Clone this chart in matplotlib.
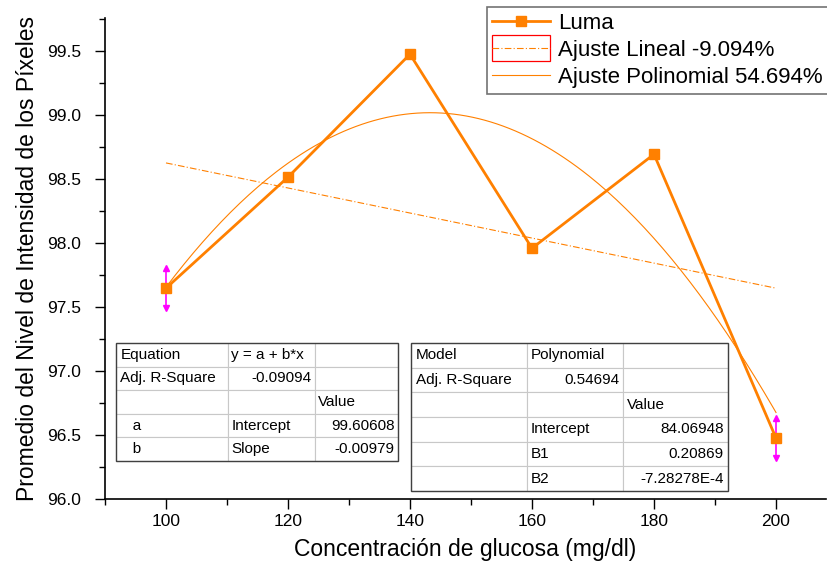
import matplotlib
matplotlib.use("Agg")
import matplotlib.pyplot as plt
import numpy as np
from matplotlib.lines import Line2D
from matplotlib.patches import Rectangle
from matplotlib.ticker import MultipleLocator

plt.rcParams['font.family'] = ['Liberation Sans', 'DejaVu Sans']

# ---- data ----
glucose = [100, 120, 140, 160, 180, 200]
luma = [97.648, 98.516, 99.477, 97.960, 98.695, 96.477]
luma_err = [0.155, 0.0, 0.0, 0.0, 0.0, 0.155]
lin_coef = [99.60608, -0.00979]             # a, b
poly_coef = [84.06948, 0.20869, -7.28278e-4]  # Intercept, B1, B2
fit_range = [100, 200]
xticks = [100, 120, 140, 160, 180, 200]
yticks = [96.0, 96.5, 97.0, 97.5, 98.0, 98.5, 99.0, 99.5]

lin_table = [["Equation", "y = a + b*x", ""],
             ["Adj. R-Square", "-0.09094", ""],
             ["", "", "Value"],
             ["   a", "Intercept", "99.60608"],
             ["   b", "Slope", "-0.00979"]]
poly_table = [["Model", "Polynomial", ""],
              ["Adj. R-Square", "0.54694", ""],
              ["", "", "Value"],
              ["", "Intercept", "84.06948"],
              ["", "B1", "0.20869"],
              ["", "B2", "-7.28278E-4"]]

ORANGE = '#FF8000'
MAGENTA = '#FF00FF'

fig = plt.figure(figsize=(8.28, 5.65), dpi=100)
ax = fig.add_axes([105/828, 1-499/565, 721/828, 481/565])

# fits
xf = np.linspace(fit_range[0], fit_range[1], 200)
ylin = lin_coef[0] + lin_coef[1]*xf
ypoly = poly_coef[0] + poly_coef[1]*xf + poly_coef[2]*xf**2
ax.plot(xf, ylin, color=ORANGE, lw=0.8, ls=(0, (6, 2, 1, 2)), zorder=2)
ax.plot(xf, ypoly, color=ORANGE, lw=0.8, zorder=2)

# data
ax.plot(glucose, luma, color=ORANGE, lw=2.0, marker='s', ms=7.5,
        mec=ORANGE, mfc=ORANGE, zorder=3)
# error bars with arrow heads
for xi, yi, ei in zip(glucose, luma, luma_err):
    if ei > 0:
        ax.plot([xi, xi], [yi - ei, yi + ei], color=MAGENTA, lw=1.2, zorder=2.5)
        ax.plot([xi], [yi + ei], marker='^', color=MAGENTA, ms=5, zorder=4)
        ax.plot([xi], [yi - ei], marker='v', color=MAGENTA, ms=5, zorder=4)

ax.set_xlim(90, 208.2)
ax.set_ylim(96.0, 99.76)
ax.set_xticks(xticks)
ax.set_yticks(yticks)
ax.set_yticklabels([f"{v:.1f}" for v in yticks])
ax.xaxis.set_minor_locator(MultipleLocator(10))
ax.yaxis.set_minor_locator(MultipleLocator(0.25))
ax.tick_params(which='major', direction='out', length=7, width=1.0, labelsize=12.5, pad=4)
ax.tick_params(which='minor', direction='out', length=4, width=1.0)
ax.tick_params(axis='y', pad=10)
for s in ['top', 'right']:
    ax.spines[s].set_visible(False)
for s in ['left', 'bottom']:
    ax.spines[s].set_linewidth(1.2)

ax.set_xlabel("Concentración de glucosa (mg/dl)", fontsize=16.5, labelpad=6)
ax.set_ylabel("Promedio del Nivel de Intensidad de los Píxeles", fontsize=16.5, labelpad=6)


# legend
class BoxLine:
    pass


class HandlerBoxLine:
    def legend_artist(self, legend, orig_handle, fontsize, handlebox):
        x0, y0 = -handlebox.xdescent, -handlebox.ydescent
        w, h = handlebox.width, handlebox.height
        tr = handlebox.get_transform()
        rect = Rectangle((x0, y0 - 0.35*h), w, 1.7*h, fill=False,
                         edgecolor='red', lw=0.9, transform=tr)
        line = Line2D([x0, x0 + w], [y0 + h/2]*2, color=ORANGE, lw=0.8,
                      ls=(0, (6, 2, 1, 2)), transform=tr)
        handlebox.add_artist(rect)
        handlebox.add_artist(line)
        return rect


h1 = Line2D([], [], color=ORANGE, lw=2.0, marker='s', ms=7.5)
h2 = BoxLine()
h3 = Line2D([], [], color=ORANGE, lw=0.8)
leg = fig.legend([h1, h2, h3],
                 ["Luma", "Ajuste Lineal -9.094%", "Ajuste Polinomial 54.694%"],
                 handler_map={BoxLine: HandlerBoxLine()},
                 loc='upper right', bbox_to_anchor=(1.0, 1 - 7/565),
                 fontsize=16, frameon=True, fancybox=False,
                 handlelength=2.6, handletextpad=0.35, labelspacing=0.28,
                 borderpad=0.25, borderaxespad=0.0)
leg.get_frame().set_edgecolor('#505050')
leg.get_frame().set_linewidth(1.2)


def draw_table(data, bbox_px, colw, right_cells):
    x0, y0, x1, y1 = bbox_px
    bx = (x0 - 105) / 721
    by = (499 - y1) / 481
    bw = (x1 - x0) / 721
    bh = (y1 - y0) / 481
    tb = ax.table(cellText=data, cellLoc='left', colWidths=colw,
                  bbox=[bx, by, bw, bh], zorder=5)
    tb.auto_set_font_size(False)
    tb.set_fontsize(11)
    for (r, c), cell in tb.get_celld().items():
        cell.set_edgecolor('#C8C8C8')
        cell.set_linewidth(0.8)
        cell.set_facecolor('white')
        cell.PAD = 0.04
        if (r, c) in right_cells:
            cell._loc = 'right'
            cell.get_text().set_ha('right')
    ax.add_patch(Rectangle((bx, by), bw, bh, transform=ax.transAxes, fill=False,
                           edgecolor='#404040', lw=1.0, zorder=6))
    return tb


draw_table(lin_table, (116, 343, 398, 461), [112, 87, 83],
           {(1, 1), (3, 2), (4, 2)})
draw_table(poly_table, (411, 343, 728, 491), [116, 96, 105],
           {(1, 1), (3, 2), (4, 2), (5, 2)})

fig.savefig("out.png", dpi=100)
